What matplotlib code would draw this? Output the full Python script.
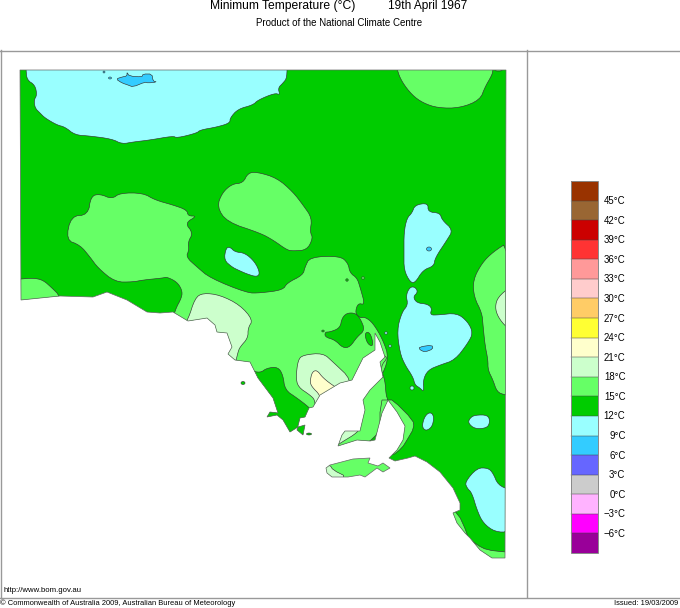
import matplotlib
matplotlib.use("Agg")
import matplotlib.pyplot as plt
import numpy as np
from matplotlib.patches import Polygon, Ellipse, Rectangle
from matplotlib.colors import ListedColormap, BoundaryNorm

plt.rcParams['font.family'] = ['Liberation Sans', 'DejaVu Sans']

# Colour scale
level_labels = [-6, -3, 0, 3, 6, 9, 12, 15, 18, 21, 24, 27, 30, 33, 36, 39, 42, 45]
colors = ['#990099', '#FF00FF', '#FFB3FF', '#CCCCCC', '#6666FF', '#33CCFF', '#99FFFF',
          '#00CC00', '#66FF66', '#CCFFCC', '#FFFFCC', '#FFFF33', '#FFCC66', '#FFCCCC',
          '#FF9999', '#FF3333', '#CC0000', '#996633', '#993300']
C6, C9, C12, C15, C18, C21 = '#33CCFF', '#99FFFF', '#00CC00', '#66FF66', '#CCFFCC', '#FFFFCC'

# Outlines (map x, map y)
mainland = [(20,70),(506,70),(505,558),(492,558),(480,550),(470,538),(465,533),(457,523),(453,513),
    (460,510),(460,503),(453,488),(440,472),(427,462),(415,456),(408,458),(395,461),(389,458),
    (397,450),(403,440),(405,426),(397,412),(388,400),(382,413),(375,440),(370,441),(357,440),(338,446),
    (342,435),(345,431),(360,431),(365,410),(363,400),(370,390),(383,377),(380,362),(385,357),
    (380,342),(375,333),(375,350),(363,358),(352,380),(340,383),(320,395),(313,407),(309,408),
    (305,417),(300,418),(297,430),(303,435),(305,425),(298,427),(290,432),(283,420),(277,415),
    (267,417),(270,412),(278,413),(273,398),(258,378),(250,362),(235,360),(228,354),(232,347),
    (227,333),(217,332),(215,325),(207,318),(188,321),(173,312),(160,313),(147,312),(127,300),
    (107,292),(93,297),(60,296),(21,300)]
kangaroo = [(326,468),(330,465),(353,459),(370,458),(368,463),(378,466),(383,463),(390,468),(383,472),
    (377,468),(365,477),(360,475),(348,477),(332,477),(327,473)]

north_cool = [(26,60),(26,70),(27,80),(35,85),(37,95),(34,100),(35,108),(40,113),(45,118),(57,125),(65,127),
    (75,135),(90,136),(112,139),(122,144),(133,142),(150,140),(173,136),(177,138),(197,133),(200,130),
    (217,127),(230,123),(230,118),(238,109),(253,105),(258,100),(275,93),(280,95),(278,88),(283,83),
    (287,78),(287,60)]
north_cold = [(116,79),(122,77),(127,76),(127,72),(129,76),(142,77),(143,74),(152,74),(153,81),(157,82),
    (148,83),(145,82),(133,87),(128,85),(122,83)]
ne_warm = [(397,60),(397,70),(402,82),(412,95),(423,103),(438,108),(460,108),(480,100),(485,87),(492,75),(493,70),(493,60)]
ne_spot = [(495,68),(502,68),(502,71),(495,71)]
mid_warm = [(217,207),(222,193),(232,184),(243,183),(248,173),(257,172),(277,178),(293,192),(303,205),
    (312,218),(310,232),(313,238),(307,250),(293,251),(287,250),(273,240),(260,233),(227,222)]
sw_warm = [(10,280),(21,279),(33,278),(43,280),(52,288),(60,296),(60,310),(10,310)]
big_warm = [(66,240),(71,216),(88,215),(91,196),(100,194),(112,199),(120,193),(143,193),(155,200),(173,205),
    (187,210),(188,216),(197,216),(185,223),(193,233),(188,242),(189,250),(186,257),(197,267),(210,278),
    (247,293),(260,293),(283,290),(287,283),(303,275),(305,267),(310,257),(340,256),(348,263),(350,273),
    (357,278),(360,287),(365,305),(358,303),(355,313),(360,318),(365,317),(373,323),(383,340),(389,358),
    (380,380),(300,440),(170,330),(175,310),(182,297),(182,290),(177,282),(167,277),(163,278),(143,280),
    (133,282),(115,282),(98,268),(90,257),(80,245)]
eyre_cool = [(250,370),(260,373),(267,368),(278,367),(283,375),(285,390),(297,398),(310,408),(320,420),(290,445),
    (255,420)]
gulf_cool = [(330,332),(340,328),(342,318),(347,313),(355,313),(360,318),(365,330),(357,337),(350,347),(343,348),
    (335,340),(325,337),(325,332)]
oval_cool = [(365,333),(369,332),(372,338),(373,346),(369,345),(366,340)]
west_mild = [(188,320),(195,298),(203,293),(220,295),(240,305),(253,320),(248,328),(248,338),(240,347),(238,352),
    (235,365),(180,330)]
ceduna_mild = [(296,377),(298,360),(303,355),(323,353),(333,362),(352,380),(345,395),(315,410),(315,400),(310,395),
    (298,387)]
ceduna_hot = [(310,382),(312,372),(317,370),(323,378),(335,387),(345,392),(320,402),(320,395),(312,387)]
yorke_warm = [(389,356),(380,367),(385,380),(386,395),(388,400),(385,420),(370,445),(330,450),(335,430),(355,380),
    (375,355)]
yorke_mild = [(330,450),(342,442),(357,433),(362,425),(340,425)]
gulf_strip = [(388,400),(393,400),(413,420),(414,428),(407,440),(402,448),(392,456),(380,450),(380,400)]
se_strip_a = [(445,505),(458,513),(467,533),(470,545),(460,535)]
se_strip_b = [(465,535),(477,545),(487,550),(505,552),(510,552),(510,565),(480,565)]
east_warm = [(510,241),(493,252),(482,263),(473,280),(474,297),(482,313),(483,325),(485,345),(488,360),(488,370),
    (493,380),(497,392),(505,395),(510,395)]
east_mild = [(510,287),(498,297),(495,307),(498,317),(506,327),(510,327)]
mid_cool_lake = [(226,248),(230,247),(235,252),(245,253),(255,262),(260,273),(257,277),(247,274),(238,270),(232,267),(224,260)]
ne_lake = [(415,205),(428,203),(428,212),(440,213),(442,220),(453,230),(447,240),(435,258),(434,266),(423,270),
    (415,283),(410,282),(404,270),(404,253),(404,232),(407,218),(412,213)]
e_lake = [(410,287),(415,287),(418,292),(413,297),(417,303),(427,304),(432,308),(430,315),(438,315),(457,313),
    (468,322),(473,333),(468,343),(455,360),(440,365),(428,370),(423,380),(424,392),(420,388),(415,385),(413,377),
    (405,365),(400,353),(397,330),(402,312),(408,305),(406,295)]
e_lake_cold = [(419,347),(432,345),(433,349),(425,352),(420,350)]
oval_a = [(432,413),(434,418),(432,427),(426,431),(422,427),(424,418),(428,413)]
oval_b = [(475,415),(488,415),(490,422),(487,428),(475,429),(468,423),(470,418)]
se_cool = [(465,482),(477,468),(488,468),(493,473),(498,485),(510,490),(510,532),(495,532),(483,523),(477,510),
    (472,493),(467,488)]
ki_mild = [(330,465),(333,470),(347,477),(332,479),(324,473),(324,466)]

W, H = 680, 608
fig = plt.figure(figsize=(W / 100, H / 100), dpi=100)
ax = fig.add_axes([0, 0, 1, 1])
ax.set_xlim(0, W)
ax.set_ylim(H, 0)
ax.axis('off')


def rounded(pts, n=2):
    """Corner-cut an outline so contours render soft, as in the source map."""
    p = np.asarray(pts, float)
    for _ in range(n):
        q = np.roll(p, -1, axis=0)
        p = np.column_stack([0.75 * p + 0.25 * q, 0.25 * p + 0.75 * q]).reshape(-1, 2)
    return p


EDGE = '#333333'
land = Polygon(mainland, closed=True, fc=C12, ec='none', zorder=1)
ki = Polygon(kangaroo, closed=True, fc=C15, ec='none', zorder=1)
ax.add_patch(land)
ax.add_patch(ki)


def region(pts, col, clip=land, z=2, n=2):
    p = Polygon(rounded(pts, n), closed=True, fc=col, ec=EDGE, lw=0.45, zorder=z, joinstyle='round')
    ax.add_patch(p)
    p.set_clip_path(clip)
    return p


region(north_cool, C9)
region(north_cold, C6, z=3, n=1)
for r in (ne_warm, mid_warm, sw_warm, big_warm, east_warm, yorke_warm):
    region(r, C15)
region(ne_spot, C15, n=1)
for r in (gulf_strip, se_strip_a, se_strip_b):
    region(r, C15, n=1)
region(eyre_cool, C12, z=3)
region(gulf_cool, C12, z=3)
region(oval_cool, C12, z=3)
for r in (west_mild, ceduna_mild, east_mild, yorke_mild):
    region(r, C18, z=3)
region(ceduna_hot, C21, z=4)
for r in (mid_cool_lake, ne_lake, e_lake, oval_a, oval_b, se_cool):
    region(r, C9, z=3)
region(e_lake_cold, C6, z=4, n=1)
region(ki_mild, C18, clip=ki, n=1)

# small spots
for (x, y, w, h, c) in [(429, 249, 5, 4, C6), (412, 388, 4, 4, C9), (104, 72, 2, 2, C6), (110, 78, 3, 2, C6),
                        (386, 333, 2.5, 2.5, C9), (390, 346, 2.5, 2.5, C9), (323, 331, 2.5, 2, C12),
                        (347, 280, 2.5, 2.5, C12), (363, 278, 2.5, 2.5, C15)]:
    ax.add_patch(Ellipse((x, y), w, h, fc=c, ec=EDGE, lw=0.4, zorder=5))
for (x, y, w, h) in [(243, 383, 4, 3), (309, 434, 5, 2)]:
    ax.add_patch(Ellipse((x, y), w, h, fc=C12, ec=EDGE, lw=0.4, zorder=5))

# coast outlines
ax.add_patch(Polygon(mainland, closed=True, fc='none', ec='#666666', lw=0.5, zorder=6))
ax.add_patch(Polygon(kangaroo, closed=True, fc='none', ec='#666666', lw=0.5, zorder=6))

# frame
frame = '#999999'
ax.plot([0, W], [50.5, 50.5], color=frame, lw=1.0, zorder=7)
ax.plot([0, W], [597.5, 597.5], color=frame, lw=1.0, zorder=7)
ax.plot([527, 527], [50, 597], color=frame, lw=1.0, zorder=7)
ax.plot([0.5, 0.5], [50, 597], color=frame, lw=1.0, zorder=7)

# colour bar
cb_y = np.linspace(553, 181, len(colors) + 1)
cb_x = np.array([571, 598])
cmap = ListedColormap(colors)
norm = BoundaryNorm(np.arange(len(colors) + 1), len(colors))
ax.pcolormesh(cb_x, cb_y, np.arange(len(colors)).reshape(-1, 1), cmap=cmap, norm=norm, zorder=3)
for y in cb_y[1:-1]:
    ax.plot(cb_x, [y, y], color='#444444', lw=0.35, zorder=4)
ax.add_patch(Rectangle((571, 181), 27, 372, fc='none', ec='#888888', lw=0.7, zorder=5))
for i, v in enumerate(level_labels):
    s = f"{'−' if v < 0 else ''}{abs(v)}°C"
    ax.text(625.5, cb_y[i + 1] + 0.5, s, fontsize=6.9, ha='right', va='center', color='black')

# text
ax.text(210, 9.5, "Minimum Temperature (°C)", fontsize=8.7, ha='left', va='baseline')
ax.text(388, 9.5, "19th April 1967", fontsize=8.6, ha='left', va='baseline')
ax.text(339.5, 23.5, "Product of the National Climate Centre", fontsize=7.0, ha='center', va='center')
ax.text(4, 591, "http://www.bom.gov.au", fontsize=5.6, ha='left', va='center')
ax.text(0, 603.5, "© Commonwealth of Australia 2009, Australian Bureau of Meteorology", fontsize=5.45, ha='left', va='center')
ax.text(678, 603.5, "Issued: 19/03/2009", fontsize=5.45, ha='right', va='center')

fig.savefig('out.png', dpi=100)
